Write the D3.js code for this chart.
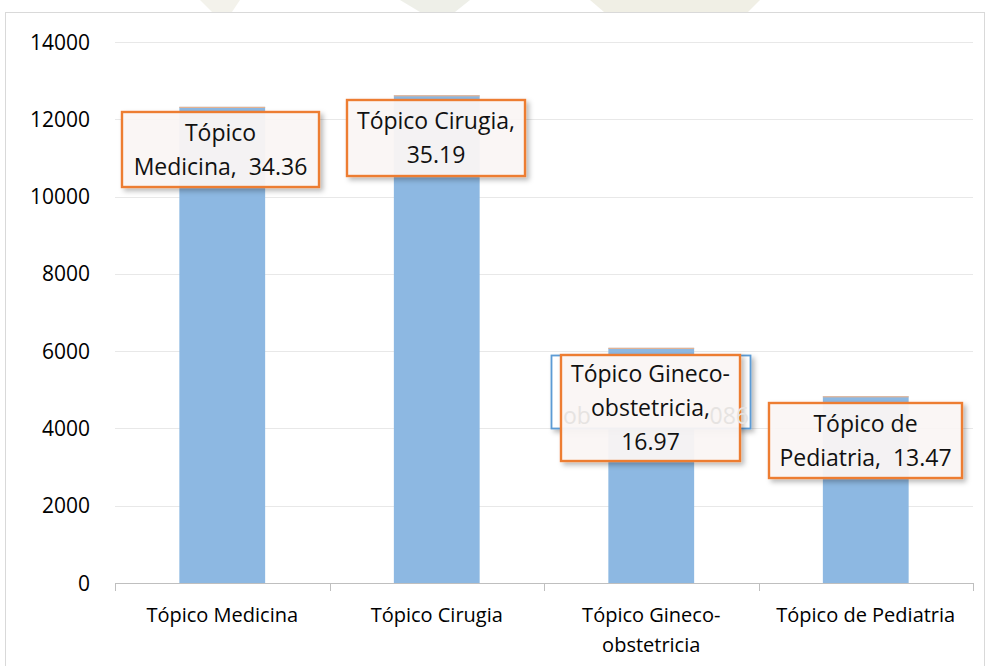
<!DOCTYPE html>
<html><head><meta charset="utf-8">
<script src="https://cdn.jsdelivr.net/npm/d3@7"></script>
<style>body{margin:0;background:#fff;}svg{display:block;} text{white-space:pre;}</style>
</head><body>
<script>
const categories = ["Tópico Medicina", "Tópico Cirugia", "Tópico Gineco-obstetricia", "Tópico de Pediatria"];
const categoryLines = [["Tópico Medicina"], ["Tópico Cirugia"], ["Tópico Gineco-", "obstetricia"], ["Tópico de Pediatria"]];
const values = [12322, 12620, 6086, 4831];
const percents = ["34.36", "35.19", "16.97", "13.47"];
const labelLines = [["Tópico", "Medicina,  34.36"], ["Tópico Cirugia,", "35.19"], ["Tópico Gineco-", "obstetricia,", "16.97"], ["Tópico de", "Pediatria,  13.47"]];
const yTicks = [0, 2000, 4000, 6000, 8000, 10000, 12000, 14000];

const W = 987, H = 666;
const FONT = "'Open Sans', 'DejaVu Sans', sans-serif";
const svg = d3.select("body").append("svg").attr("width", W).attr("height", H);
const defs = svg.append("defs");
const f = defs.append("filter").attr("id", "sh").attr("x", "-20%").attr("y", "-20%").attr("width", "150%").attr("height", "150%");
f.append("feDropShadow").attr("dx", 3).attr("dy", 3).attr("stdDeviation", 2.5).attr("flood-color", "#000").attr("flood-opacity", 0.28);

// faint watermark above the frame
const wm = svg.append("g").attr("opacity", 0.45);
wm.append("path").attr("d", "M200,0 L240,0 L232,12 L212,12 Z").attr("fill", "#e4e2d2");
wm.append("path").attr("d", "M400,0 L470,0 L455,12 L420,12 Z").attr("fill", "#d9dccb");
wm.append("path").attr("d", "M590,0 L760,0 L748,12 L604,12 Z").attr("fill", "#dedbc6");

// frame
svg.append("rect").attr("x", 5.5).attr("y", 12.5).attr("width", 979).attr("height", 700)
  .attr("fill", "#fff").attr("stroke", "#d9d9d9");

const x = d3.scaleBand().domain(categories).range([115, 973]).paddingInner(0.6).paddingOuter(0.3);
const xb = d3.scaleBand().domain(categories).range([115, 973]);
const y = d3.scaleLinear().domain([0, 14000]).range([583, 42]);

// gridlines
svg.append("g").selectAll("line").data(yTicks.filter(d => d > 0)).join("line")
  .attr("x1", 115).attr("x2", 973).attr("y1", d => Math.round(y(d)) + 0.5).attr("y2", d => Math.round(y(d)) + 0.5)
  .attr("stroke", "#e8e8e8").attr("stroke-width", 1);

// y labels
svg.append("g").selectAll("text").data(yTicks).join("text")
  .attr("x", 90).attr("y", d => y(d)).attr("dy", "0.36em").attr("text-anchor", "end")
  .attr("font-family", FONT).attr("font-size", 21).attr("fill", "#000")
  .text(d => d);

// bars
svg.append("g").selectAll("rect").data(values).join("rect")
  .attr("x", (d, i) => x(categories[i])).attr("width", x.bandwidth())
  .attr("y", d => y(d)).attr("height", d => y(0) - y(d))
  .attr("fill", "#8db8e2");
svg.append("g").selectAll("line").data(values).join("line")
  .attr("x1", (d, i) => x(categories[i])).attr("x2", (d, i) => x(categories[i]) + x.bandwidth())
  .attr("y1", d => y(d) + 0.5).attr("y2", d => y(d) + 0.5)
  .attr("stroke", "#f4b183").attr("stroke-width", 1);

// x axis
const axis = svg.append("g");
axis.append("line").attr("x1", 115).attr("x2", 973).attr("y1", 583.5).attr("y2", 583.5).attr("stroke", "#bfbfbf");
const ticks = categories.map(c => xb(c)).concat([973]);
axis.selectAll("line.t").data(ticks).join("line").attr("class", "t")
  .attr("x1", d => Math.round(d) + 0.5).attr("x2", d => Math.round(d) + 0.5).attr("y1", 583).attr("y2", 591)
  .attr("stroke", "#bfbfbf");
categories.forEach((c, i) => {
  const t = axis.append("text").attr("text-anchor", "middle")
    .attr("font-family", FONT).attr("font-size", 20).attr("fill", "#000");
  categoryLines[i].forEach((ln, j) => {
    t.append("tspan").attr("x", xb(c) + xb.bandwidth() / 2).attr("y", 622 + j * 30).text(ln);
  });
});

// labels
const boxes = [
  {x0: 122, y0: 112, w: 197, h: 75},
  {x0: 347, y0: 100, w: 178, h: 76},
  {x0: 561, y0: 355, w: 179, h: 106},
  {x0: 769, y0: 403, w: 193, h: 75}
];
// hidden blue label behind Gineco
const hb = svg.append("g");
hb.append("rect").attr("x", 551.5).attr("y", 355.5).attr("width", 199).attr("height", 73)
  .attr("fill", "#fff").attr("stroke", "#5b9bd5").attr("stroke-width", 1.8).attr("filter", "url(#sh)");

boxes.forEach((b, i) => {
  const g = svg.append("g");
  g.append("rect").attr("x", b.x0).attr("y", b.y0).attr("width", b.w).attr("height", b.h)
    .attr("fill", "#fcf8f6").attr("fill-opacity", 0.93).attr("stroke", "#ed7d31").attr("stroke-width", 2.4).attr("filter", "url(#sh)");
  const n = labelLines[i].length;
  const lh = 34;
  const cy = b.y0 + b.h / 2;
  labelLines[i].forEach((ln, j) => {
    g.append("text").attr("x", b.x0 + b.w / 2).attr("y", cy + (j - (n - 1) / 2) * lh).attr("dy", "0.36em")
      .attr("text-anchor", "middle").attr("font-family", FONT).attr("font-size", 23)
      .attr("fill", "#111").text(ln);
  });
});
// faint parts of the hidden label showing through
const hiddenText = "obstetricia, " + values[2];
svg.append("text").attr("x", 563).attr("y", 416).attr("dy", "0.36em").attr("font-family", FONT).attr("font-size", 23)
  .attr("fill", "#e6e3e1").text(hiddenText.slice(0, 2));
svg.append("text").attr("x", 749).attr("y", 416).attr("dy", "0.36em").attr("text-anchor", "end").attr("font-family", FONT).attr("font-size", 23)
  .attr("fill", "#e6e3e1").text(String(values[2]).slice(1));
</script>
</body></html>
